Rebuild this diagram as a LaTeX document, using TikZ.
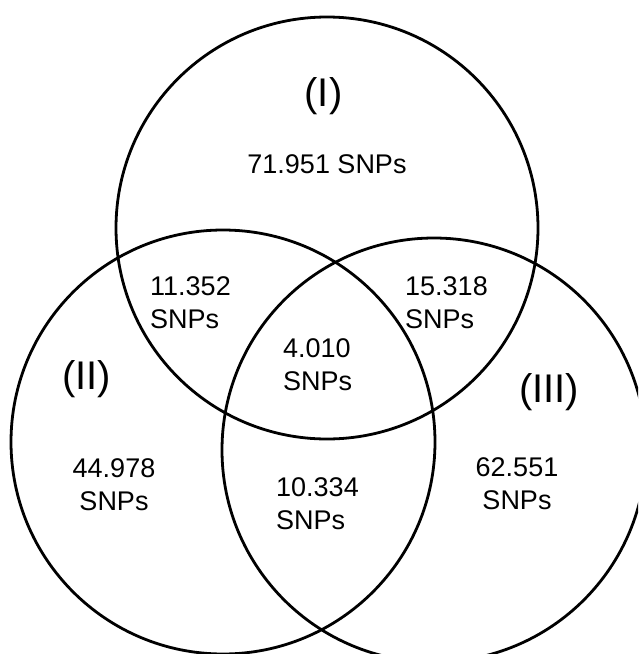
\documentclass[tikz,border=0pt]{standalone}
\usepackage{fontspec}
\setmainfont{Liberation Sans}
\begin{document}
\begin{tikzpicture}[x=1pt,y=-1pt,
  setcircle/.style={draw=black, line width=2.8pt, circle, inner sep=0pt, minimum size=#1},
  count/.style={inner sep=0pt, align=left, font=\fontsize{27}{33}\selectfont},
  countc/.style={inner sep=0pt, align=center, font=\fontsize{27}{33}\selectfont},
  setlabel/.style={inner sep=0pt, font=\fontsize{40}{48}\selectfont}]
  \useasboundingbox (0,0) rectangle (638,654);
  \clip (0,0) rectangle (638,654);

  % the three sets
  \node[setcircle=422pt] (setI)   at (327,228) {};
  \node[setcircle=424pt] (setII)  at (223,442) {};
  \node[setcircle=424pt] (setIII) at (434,450) {};

  % set names
  \node[setlabel] (lblI)   at (323.5,96) {(I)};
  \node[setlabel] (lblII)  at (86.5,379) {(II)};
  \node[setlabel] (lblIII) at (549,392)  {(III)};

  % counts per region
  \node[countc, anchor=base] (onlyI) at (327,173) {71.951 SNPs};
  \node[count, anchor=north west] (IandII)  at (150,276.5) {11.352\\SNPs};
  \node[count, anchor=north west] (IandIII) at (405,276.5) {15.318\\SNPs};
  \node[count, anchor=north west] (all)     at (283,338)   {4.010\\SNPs};
  \node[countc, anchor=north] (onlyII)  at (114,458.5) {44.978\\SNPs};
  \node[count, anchor=north west] (IIandIII) at (276,477) {10.334\\SNPs};
  \node[countc, anchor=north] (onlyIII) at (517,457)   {62.551\\SNPs};
\end{tikzpicture}
\end{document}
